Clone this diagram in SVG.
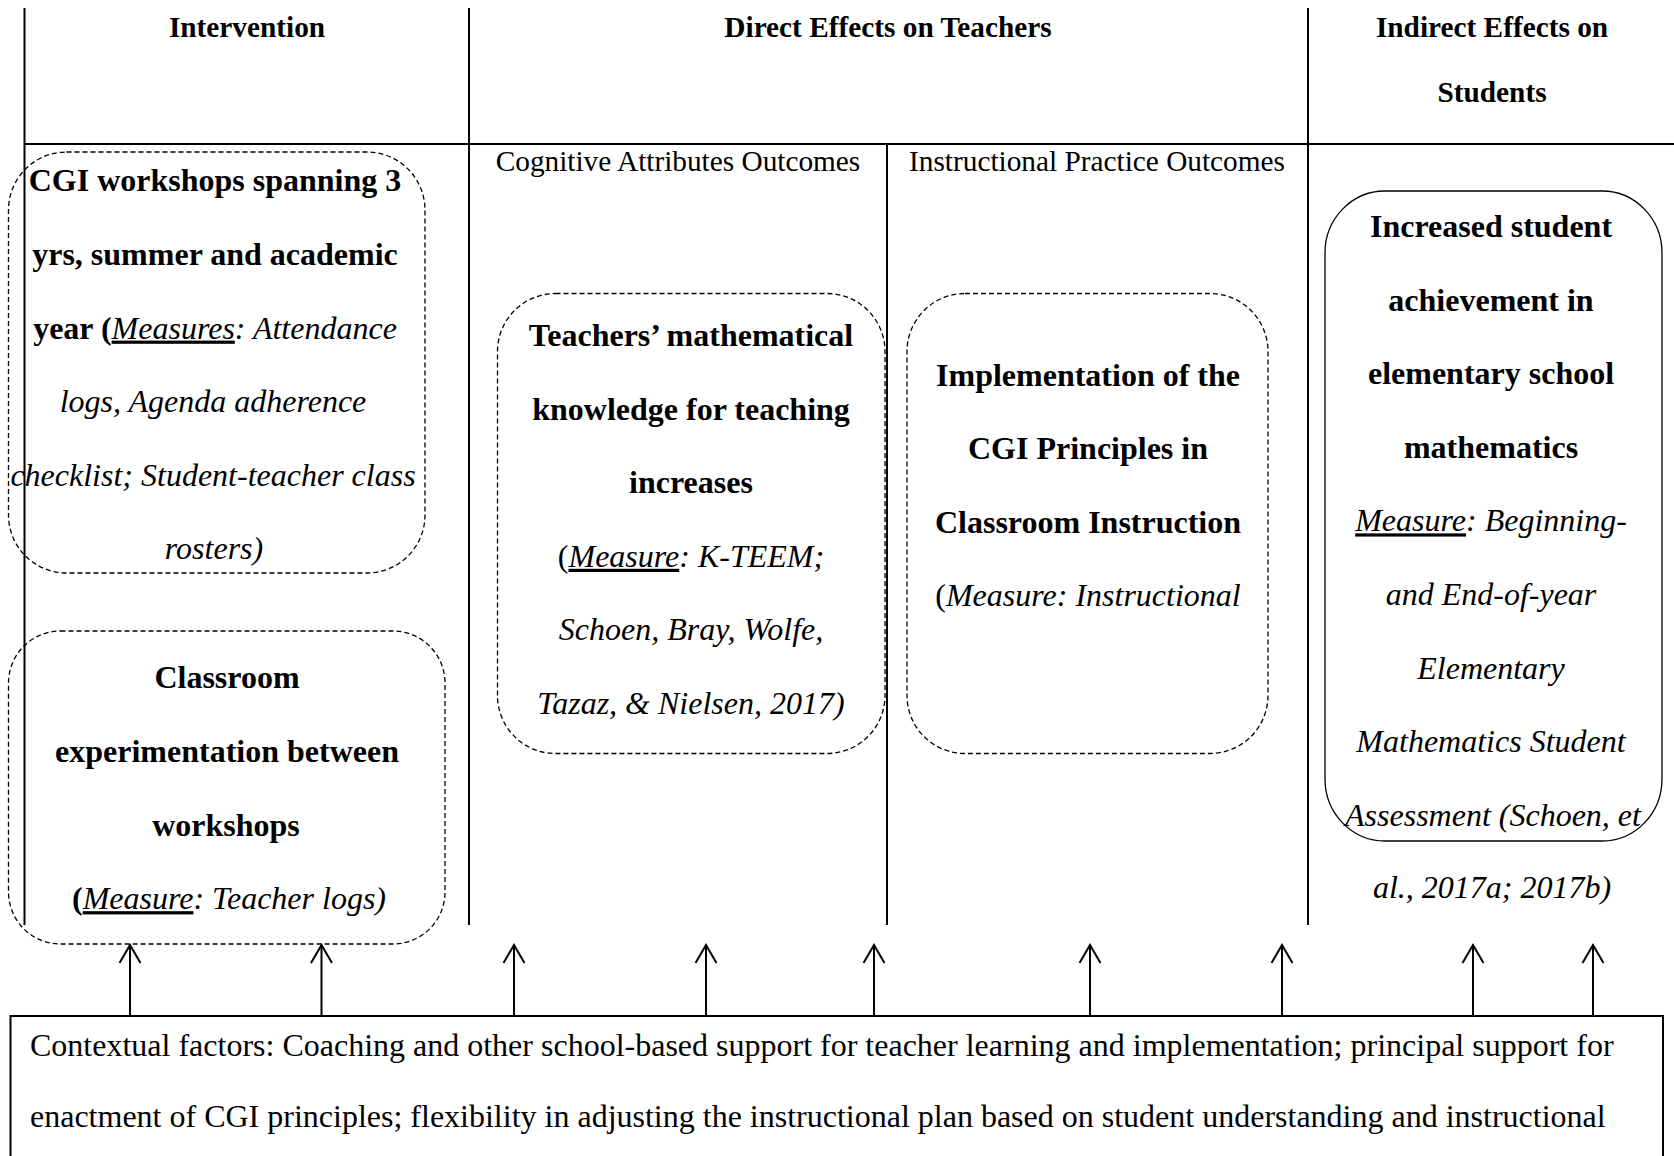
<svg xmlns="http://www.w3.org/2000/svg" width="1674" height="1156" viewBox="0 0 1674 1156">
<style>
text{font-family:"Liberation Serif","Times New Roman",serif;fill:#000}
.h{font-size:29.3px;font-weight:bold;text-anchor:middle}
.sh{font-size:29.3px;text-anchor:middle}
.t{font-size:32px;text-anchor:middle}
.b{font-weight:bold}
.i{font-style:italic}
.u{text-decoration:underline}
.grid{stroke:#000;stroke-width:2;fill:none}
.dash{fill:none;stroke:#000;stroke-width:1.3;stroke-dasharray:5 3}
.solid{fill:none;stroke:#000;stroke-width:1.3}
.conn{stroke:#000;stroke-width:2;fill:none}
</style>
<defs>
<marker id="arr" markerUnits="userSpaceOnUse" markerWidth="40" markerHeight="40" refX="0" refY="0" orient="auto" overflow="visible">
<path d="M-18,-10.5 L0,0 L-18,10.5" fill="none" stroke="#000" stroke-width="2"/>
</marker>
</defs>
<rect width="1674" height="1156" fill="#fff"/>
<g id="table">
<line class="grid" x1="24.5" y1="8" x2="24.5" y2="925"/>
<line class="grid" x1="469" y1="8" x2="469" y2="925"/>
<line class="grid" x1="887" y1="144" x2="887" y2="925"/>
<line class="grid" x1="1308" y1="8" x2="1308" y2="925"/>
<line class="grid" x1="24.5" y1="144" x2="1674" y2="144" stroke-width="2.5"/>
<text class="h" x="247" y="36.5">Intervention</text>
<text class="h" x="888" y="36.5">Direct Effects on Teachers</text>
<text class="h" x="1492" y="36.5">Indirect Effects on</text>
<text class="h" x="1492" y="102">Students</text>
<text class="sh" x="678" y="171">Cognitive Attributes Outcomes</text>
<text class="sh" x="1097" y="171">Instructional Practice Outcomes</text>
</g>
<g id="node-workshops">
<rect class="dash" x="8.5" y="152" width="416.5" height="421" rx="58" ry="58"/>
<text class="t b" x="215" y="191.3">CGI workshops spanning 3</text>
<text class="t b" x="215" y="265">yrs, summer and academic</text>
<text class="t" x="215" y="338.6"><tspan class="b">year (</tspan><tspan class="i u">Measures</tspan><tspan class="i">: Attendance</tspan></text>
<text class="t i" x="213" y="412.2">logs, Agenda adherence</text>
<text class="t i" x="213" y="485.8">checklist; Student-teacher class</text>
<text class="t i" x="214" y="559.4">rosters)</text>
</g>
<g id="node-experimentation">
<rect class="dash" x="8.5" y="631" width="436.5" height="313" rx="52" ry="52"/>
<text class="t b" x="227" y="688.4">Classroom</text>
<text class="t b" x="227" y="762">experimentation between</text>
<text class="t b" x="226" y="835.6">workshops</text>
<text class="t" x="229" y="909.2"><tspan class="b">(</tspan><tspan class="i u">Measure</tspan><tspan class="i">: Teacher logs)</tspan></text>
</g>
<g id="node-knowledge">
<rect class="dash" x="497.5" y="293.5" width="387.5" height="460" rx="58" ry="58"/>
<text class="t b" x="691" y="346">Teachers’ mathematical</text>
<text class="t b" x="691" y="419.6">knowledge for teaching</text>
<text class="t b" x="691" y="493.2">increases</text>
<text class="t" x="691" y="566.8">(<tspan class="i u">Measure</tspan><tspan class="i">: K-TEEM;</tspan></text>
<text class="t i" x="691" y="640.4">Schoen, Bray, Wolfe,</text>
<text class="t i" x="691" y="714">Tazaz, &amp; Nielsen, 2017)</text>
</g>
<g id="node-implementation">
<rect class="dash" x="907" y="293.5" width="361" height="460" rx="58" ry="58"/>
<text class="t b" x="1088" y="385.6">Implementation of the</text>
<text class="t b" x="1088" y="459.2">CGI Principles in</text>
<text class="t b" x="1088" y="532.8">Classroom Instruction</text>
<text class="t" x="1088" y="606.4">(<tspan class="i">Measure: Instructional</tspan></text>
</g>
<g id="node-achievement">
<rect class="solid" x="1325" y="191" width="337" height="650" rx="60" ry="62"/>
<text class="t b" x="1491" y="237">Increased student</text>
<text class="t b" x="1491" y="310.6">achievement in</text>
<text class="t b" x="1491" y="384.2">elementary school</text>
<text class="t b" x="1491" y="457.8">mathematics</text>
<text class="t i" x="1491" y="531.4"><tspan class="u">Measure</tspan>: Beginning-</text>
<text class="t i" x="1491" y="605">and End-of-year</text>
<text class="t i" x="1491" y="678.6">Elementary</text>
<text class="t i" x="1491" y="752.2">Mathematics Student</text>
<text class="t i" x="1493" y="825.8">Assessment (Schoen, et</text>
<text class="t i" x="1492" y="898">al., 2017a; 2017b)</text>
</g>
<g id="node-context">
<rect x="10.5" y="1016" width="1652.5" height="200" fill="none" stroke="#000" stroke-width="2"/>
<text x="30" y="1055.5" font-size="32">Contextual factors: Coaching and other school-based support for teacher learning and implementation; principal support for</text>
<text x="30" y="1127" font-size="32">enactment of CGI principles; flexibility in adjusting the instructional plan based on student understanding and instructional</text>
</g>
<g id="connectors">
<line class="conn" x1="130" y1="1016" x2="130" y2="945" marker-end="url(#arr)"/>
<line class="conn" x1="321.5" y1="1016" x2="321.5" y2="945" marker-end="url(#arr)"/>
<line class="conn" x1="514" y1="1016" x2="514" y2="945" marker-end="url(#arr)"/>
<line class="conn" x1="706" y1="1016" x2="706" y2="945" marker-end="url(#arr)"/>
<line class="conn" x1="874" y1="1016" x2="874" y2="945" marker-end="url(#arr)"/>
<line class="conn" x1="1090" y1="1016" x2="1090" y2="945" marker-end="url(#arr)"/>
<line class="conn" x1="1282" y1="1016" x2="1282" y2="945" marker-end="url(#arr)"/>
<line class="conn" x1="1473" y1="1016" x2="1473" y2="945" marker-end="url(#arr)"/>
<line class="conn" x1="1593" y1="1016" x2="1593" y2="945" marker-end="url(#arr)"/>
</g>
</svg>
